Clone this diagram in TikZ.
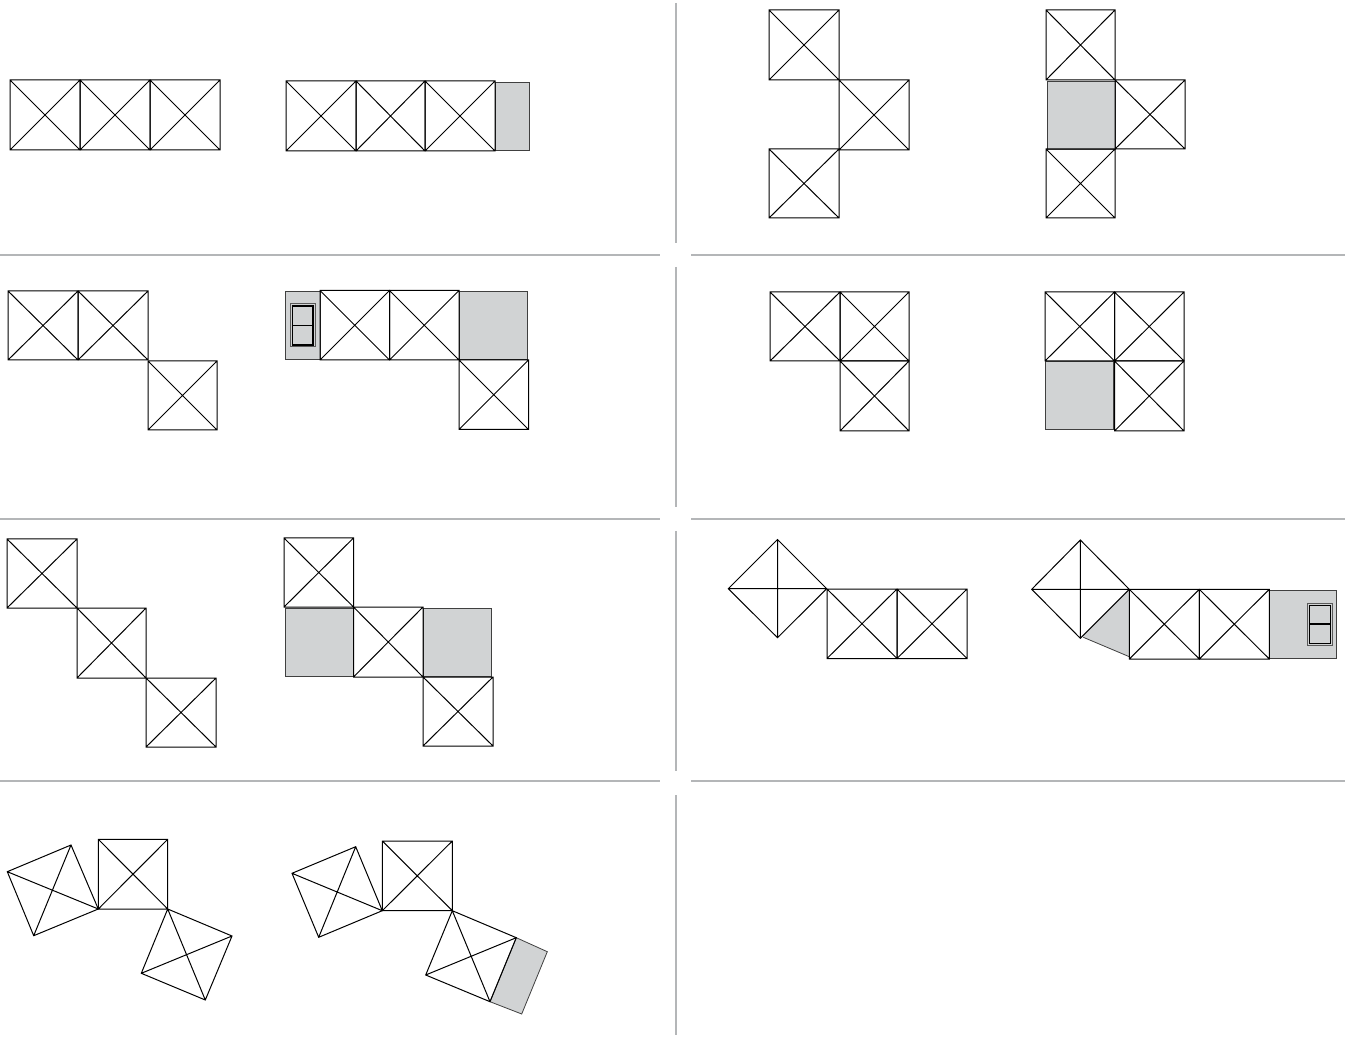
\documentclass[tikz,border=0pt]{standalone}
\definecolor{fillgray}{HTML}{D1D3D4}
\definecolor{rulegray}{HTML}{B4B6B8}
\tikzset{
  x=1pt,y=-1pt,
  ln/.style={draw=black,line width=1pt,line join=miter},
  shade/.style={draw=black!75,line width=0.8pt,fill=fillgray},
  divider/.style={draw=rulegray,line width=1.3pt},
}
% axis-aligned square with crossed diagonals
\newcommand{\xbox}[4]{\draw[ln] (#1,#2) rectangle (#3,#4) (#1,#2) -- (#3,#4) (#1,#4) -- (#3,#2);}
% general quadrilateral with crossed diagonals
\newcommand{\xquad}[4]{\draw[ln] #1 -- #2 -- #3 -- #4 -- cycle #1 -- #3 #2 -- #4;}
\newcommand{\gbox}[4]{\draw[shade] (#1,#2) rectangle (#3,#4);}
% double-framed window symbol
\newcommand{\winsym}[7]{%
  \draw[draw=black!65,line width=1pt] (#1,#3) rectangle (#2,#4);
  \draw[draw=black,line width=1.3pt] (#5,#3+2) rectangle (#6,#4-2);
  \draw[draw=black,line width=1.6pt] (#5,#7) -- (#6,#7);}
\begin{document}
\begin{tikzpicture}
\useasboundingbox (0,0) rectangle (1345,1048);
% dividers
\draw[divider] (0,255) -- (660,255) (691,255) -- (1345,255);
\draw[divider] (0,519) -- (660,519) (691,519) -- (1345,519);
\draw[divider] (0,781) -- (660,781) (691,781) -- (1345,781);
\draw[divider] (676,3) -- (676,243) (676,267) -- (676,507) (676,531) -- (676,771) (676,795) -- (676,1035);
% panel 1
\xbox{10}{80}{80}{150}\xbox{80}{80}{150}{150}\xbox{150}{80}{220}{150}
\gbox{495}{82}{529}{150}
\xbox{286}{81}{356}{151}\xbox{356}{81}{425}{151}\xbox{425}{81}{495}{151}
% panel 2
\xbox{769}{10}{839}{80}\xbox{839}{80}{909}{150}\xbox{769}{149}{839}{218}
\gbox{1047}{81}{1115}{149}
\xbox{1046}{10}{1115}{80}\xbox{1115}{80}{1185}{149}\xbox{1046}{149}{1115}{218}
% panel 3
\xbox{8}{291}{78}{360}\xbox{78}{291}{148}{360}\xbox{148}{361}{217}{430}
\gbox{285.5}{291}{320}{359.5}\gbox{459}{291}{527}{359.5}
\winsym{290.5}{315}{304}{347}{292.5}{313}{325.5}
\xbox{320}{290.5}{389.5}{360}\xbox{389.5}{290.5}{459}{360}\xbox{459}{360}{528.5}{429.5}
% panel 4
\xbox{770}{292}{840}{361}\xbox{840}{292}{909}{361}\xbox{840}{361}{909}{431}
\gbox{1045}{361}{1113.5}{429.5}
\xbox{1045}{292}{1114.5}{361}\xbox{1114.5}{292}{1184}{361}\xbox{1114.5}{361}{1184}{431}
% panel 5
\xbox{7}{539}{77}{608}\xbox{77}{608}{146}{678}\xbox{146}{678}{216}{747}
\gbox{285}{608}{353}{676}\gbox{423}{608}{491}{676}
\xbox{284}{538}{353.5}{607}\xbox{353.5}{607}{423}{677}\xbox{423}{677}{493}{746}
% panel 6
\xquad{(777.5,539.5)}{(826.7,588.7)}{(777.5,637.7)}{(728.3,588.7)}
\xbox{827}{589}{897}{658.5}\xbox{897}{589}{967}{658.5}
\fill[fillgray] (1129.3,589.3) -- (1083.3,635.3) -- (1083.3,637.3) -- (1129.3,656.7) -- cycle;
\draw[shade,fill=none] (1083.3,637.3) -- (1129.3,656.7);
\xquad{(1080.3,540)}{(1129.3,589.3)}{(1080.3,638.3)}{(1031.7,589.3)}
\gbox{1269.3}{590}{1336.7}{658.5}
\winsym{1307.3}{1332.3}{603.3}{645.7}{1309.3}{1330.7}{624}
\xbox{1129.3}{589.3}{1199.3}{659}\xbox{1199.3}{589.3}{1269.3}{659}
% panel 7
\xquad{(7.3,871.7)}{(71,845)}{(98.3,909)}{(33.7,935.7)}
\xbox{98.3}{839.3}{167.7}{909}
\xquad{(167.7,909)}{(232,936)}{(205.3,1000)}{(141.3,973.3)}
\draw[shade] (516.3,937.7) -- (547.3,951.7) -- (521.7,1014) -- (490,1001.7) -- cycle;
\xquad{(292,873.3)}{(355.7,846.7)}{(382.3,910.7)}{(318.7,937.3)}
\xbox{382.3}{841}{452.3}{910.7}
\xquad{(452.3,910.7)}{(516.3,937.7)}{(490,1001.7)}{(425.7,975)}
\end{tikzpicture}
\end{document}
